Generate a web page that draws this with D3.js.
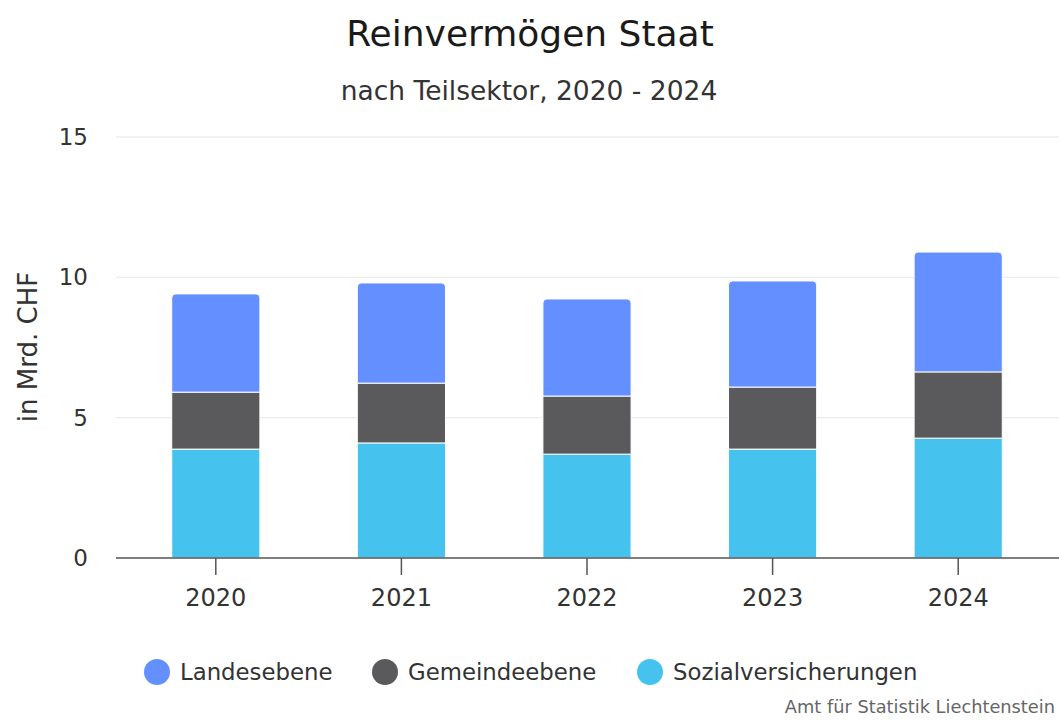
<!DOCTYPE html>
<html>
<head>
<meta charset="utf-8">
<script src="https://cdn.jsdelivr.net/npm/d3@7"></script>
<style>
  body { margin: 0; background: #fff; }
  svg { font-family: "DejaVu Sans", "Open Sans", sans-serif; }
</style>
</head>
<body>
<div class="chart"></div>
<script>
const years = ["2020", "2021", "2022", "2023", "2024"];
const seriesNames = ["Sozialversicherungen", "Gemeindeebene", "Landesebene"];
const sozial = [3.88, 4.10, 3.70, 3.88, 4.27];
const gemeinde = [2.03, 2.13, 2.07, 2.21, 2.36];
const landes = [3.50, 3.57, 3.46, 3.78, 4.27];
const yTicks = [0, 5, 10, 15];
const legendOrder = ["Landesebene", "Gemeindeebene", "Sozialversicherungen"];

function init() {
    const w = 1059;
    const h = 720;

    const color = d3.scaleOrdinal()
        .domain(seriesNames)
        .range(["#46c2ef", "#5a5a5c", "#648fff"]);

    const rows = years.map((y, i) => ({
        year: y,
        Sozialversicherungen: sozial[i],
        Gemeindeebene: gemeinde[i],
        Landesebene: landes[i]
    }));
    const stacked = d3.stack().keys(seriesNames)(rows);

    const x = d3.scaleBand()
        .domain(years)
        .range([123, 1051])
        .paddingInner(0.525)
        .paddingOuter(0.2625);

    const y = d3.scaleLinear()
        .domain([0, 15])
        .range([558, 137]);

    const svg = d3.select(".chart")
        .append("svg")
        .attr("width", w)
        .attr("height", h);

    // title
    svg.append("text")
        .attr("x", 530).attr("y", 46)
        .attr("text-anchor", "middle")
        .style("font-size", "36px")
        .style("fill", "#1a1a1a")
        .text("Reinvermögen Staat");
    svg.append("text")
        .attr("x", 529).attr("y", 100)
        .attr("text-anchor", "middle")
        .style("font-size", "26.5px")
        .style("fill", "#333")
        .text("nach Teilsektor, 2020 - 2024");

    // grid
    svg.append("g")
        .selectAll("line")
        .data(yTicks.filter(d => d > 0))
        .enter()
        .append("line")
        .attr("x1", 116).attr("x2", 1059)
        .attr("y1", d => y(d)).attr("y2", d => y(d))
        .style("stroke", "#e6e6e6")
        .style("stroke-width", 1);

    // y axis labels
    const yAxis = svg.append("g")
        .attr("transform", "translate(116,0)")
        .call(d3.axisLeft(y).tickValues(yTicks).tickSize(0).tickPadding(28));
    yAxis.select(".domain").remove();
    yAxis.selectAll("text")
        .style("font-size", "23px")
        .style("font-family", "'DejaVu Sans', sans-serif")
        .style("fill", "#333");

    svg.append("text")
        .attr("transform", "translate(37,347) rotate(-90)")
        .attr("text-anchor", "middle")
        .style("font-size", "26px")
        .style("fill", "#333")
        .text("in Mrd. CHF");

    // bars
    const layer = svg.append("g")
        .selectAll("g")
        .data(stacked)
        .enter()
        .append("g")
        .style("fill", d => color(d.key));

    layer.each(function(s) {
        const isTop = s.key === "Landesebene";
        d3.select(this).selectAll("path")
            .data(s)
            .enter()
            .append("path")
            .attr("d", d => {
                const x0 = x(d.data.year), bw = x.bandwidth();
                const y0 = y(d[0]), y1 = y(d[1]);
                const r = isTop ? 4 : 0;
                return `M${x0},${y0}V${y1 + r}Q${x0},${y1} ${x0 + r},${y1}H${x0 + bw - r}Q${x0 + bw},${y1} ${x0 + bw},${y1 + r}V${y0}Z`;
            })
            .style("stroke", "#fff")
            .style("stroke-width", 1);
    });

    // x axis
    const xAxis = svg.append("g")
        .attr("transform", "translate(0,558)")
        .call(d3.axisBottom(x).tickSize(17).tickPadding(14));
    xAxis.select(".domain").remove();
    xAxis.selectAll(".tick line").style("stroke", "#555").style("stroke-width", 1.5);
    xAxis.selectAll("text")
        .style("font-size", "24px")
        .style("font-family", "'DejaVu Sans', sans-serif")
        .style("fill", "#333");
    svg.append("line")
        .attr("x1", 116).attr("x2", 1059)
        .attr("y1", 558).attr("y2", 558)
        .style("stroke", "#555")
        .style("stroke-width", 1.5);

    // legend
    const legendX = [157, 385, 650];
    const legend = svg.append("g")
        .selectAll("g")
        .data(legendOrder)
        .enter()
        .append("g")
        .attr("transform", (d, i) => `translate(${legendX[i]},672)`);
    legend.append("circle")
        .attr("r", 13)
        .style("fill", d => color(d));
    legend.append("text")
        .attr("x", 23).attr("y", 8)
        .style("font-size", "22.8px")
        .style("fill", "#333")
        .text(d => d);

    // credits
    svg.append("text")
        .attr("x", 1055).attr("y", 713)
        .attr("text-anchor", "end")
        .style("font-size", "17.8px")
        .style("fill", "#666")
        .text("Amt für Statistik Liechtenstein");
}

window.onload = init;
</script>
</body>
</html>
